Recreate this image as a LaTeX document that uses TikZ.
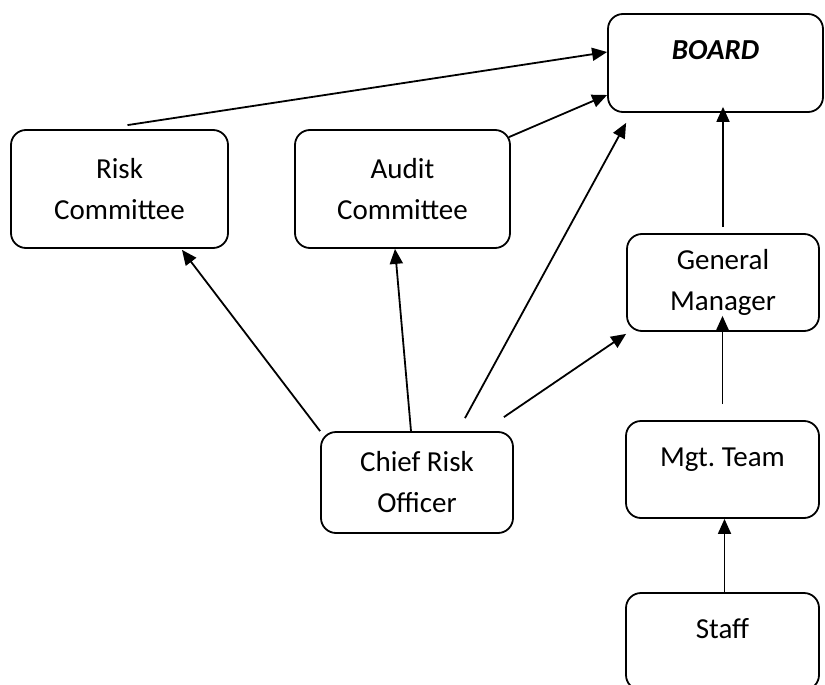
\documentclass[tikz,border=0pt]{standalone}
\usepackage{fontspec}
\setmainfont{Carlito}
\usetikzlibrary{
  positioning,
  arrows.meta
}
\tikzset{
  >={Triangle[length=15pt,width=13pt]},
  orgbox/.style={rectangle,draw,line width=1.8pt,rounded corners=15pt,align=center,inner sep=2pt},
  oneline/.style={text height=20pt,text depth=27pt},
  linkarrow/.style={->,line width=1.8pt}
}

\begin{document}
\begin{tikzpicture}[x=1pt,y=-1pt,font=\fontsize{29}{41}\selectfont]
    \useasboundingbox (0,0) rectangle (825,685);

    % boxes of the reporting lines
    \node[orgbox,oneline,minimum width=215pt,minimum height=98pt,font=\fontsize{29}{41}\selectfont\bfseries\itshape] (board) at (715.5,63) {BOARD};
    \node[orgbox,minimum width=217pt,minimum height=118pt] (risk) at (119.5,189) {Risk\\Committee};
    \node[orgbox,minimum width=215pt,minimum height=118pt] (audit) at (402.5,189) {Audit\\Committee};
    \node[orgbox,minimum width=192pt,minimum height=97pt] (gm) at (723,282.5) {General\\Manager};
    \node[orgbox,minimum width=192pt,minimum height=101pt] (cro) at (417,482.5) {Chief Risk\\Officer};
    \node[orgbox,oneline,minimum width=193pt,minimum height=97pt] (mgt) at (722.5,469.5) {Mgt.\ Team};
    \node[orgbox,oneline,minimum width=193pt,minimum height=97pt] (staff) at (722.5,641.5) {Staff};

    % committees up to the board
    \draw[linkarrow] ([xshift=8pt,yshift=4pt]risk.north) -- ([yshift=11pt]board.west);
    \draw[linkarrow] ([xshift=-2pt,yshift=-8pt]audit.north east) -- ([yshift=-32pt]board.west);

    % chief risk officer
    \draw[linkarrow] ([xshift=48pt,yshift=13pt]cro.north) -- ([xshift=19pt,yshift=-10pt]board.south west);
    \draw[linkarrow] ([xshift=-10pt,yshift=14pt]cro.north east) -- ([yshift=-2pt]gm.south west);
    \draw[linkarrow] ([xshift=-6pt]cro.north) -- ([xshift=-7.5pt]audit.south);
    \draw[linkarrow] (cro.north west) -- ([xshift=62.5pt,yshift=-1pt]risk.south);

    % management line
    \draw[linkarrow] ([yshift=6pt]gm.north) -- ([yshift=6pt]gm.north |- board.south);
    \draw[linkarrow] ([yshift=16pt]mgt.north) -- ([yshift=16pt]mgt.north |- gm.south);
    \draw[linkarrow] ([xshift=2pt]staff.north) -- ([xshift=2pt]staff.north |- mgt.south);
\end{tikzpicture}
\end{document}
